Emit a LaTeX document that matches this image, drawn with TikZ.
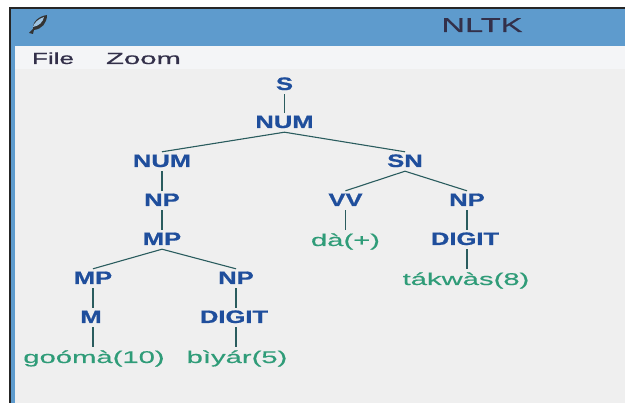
\documentclass[tikz,border=0pt]{standalone}
\usepackage{fontspec}
\setmainfont{Liberation Sans}
\newfontfamily\lblfont[FakeStretch=1.42,FakeBold=0.9]{Liberation Sans Bold}
\newfontfamily\leaffont[FakeStretch=1.72,FakeBold=0.3]{Liberation Sans}
\newfontfamily\menufont[FakeStretch=1.63,FakeBold=0.6]{Liberation Sans}
\newfontfamily\zoomfont[FakeStretch=1.83,FakeBold=0.6]{Liberation Sans}
\newfontfamily\titlefont[FakeStretch=1.63,FakeBold=0.6]{Liberation Sans}
\definecolor{barblue}{HTML}{5E9BCD}
\definecolor{panel}{HTML}{EFEFEF}
\definecolor{menubg}{HTML}{F4F5F7}
\definecolor{cat}{HTML}{1F4E9C}
\definecolor{leaf}{HTML}{2F9C78}
\definecolor{edge}{HTML}{2A5C5E}
\definecolor{ink}{HTML}{33304A}
\tikzset{
  treenode/.style={inner sep=0pt,anchor=base,text height=15pt,text depth=4pt},
  catlabel/.style={treenode,text=cat,font=\lblfont\fontsize{18}{18}\selectfont},
  leaflabel/.style={treenode,text=leaf,font=\leaffont\fontsize{17}{17}\selectfont},
  menulabel/.style={inner sep=0pt,anchor=base,text=ink,font=\menufont\fontsize{16}{16}\selectfont},
  treeedge/.style={draw=edge,line width=1.1pt},
  stemedge/.style={draw=edge,line width=1.8pt},
}
\begin{document}
\begin{tikzpicture}[x=1pt,y=-1pt]
\useasboundingbox (0,0) rectangle (625,403);
\fill[white] (0,0) rectangle (625,403);
\fill[black!85] (9,7) rectangle (625,9);
\fill[black!85] (9,7) rectangle (11,403);
\fill[barblue] (11,9) rectangle (625,403);
\fill[menubg] (15,46) rectangle (625,69);
\fill[panel] (15,69) rectangle (625,403);
% feather icon
\fill[black!80] (29,33) -- (33,29) .. controls (32,22) and (39,16) .. (47,15) .. controls (47,23) and (42,29) .. (34,30) -- (33,34) -- cycle;
\fill[barblue!60!white] (33,27) .. controls (34,23) and (38,19) .. (44,17) .. controls (43,22) and (39,26) .. (33,27) -- cycle;
\node[inner sep=0pt,anchor=base,text=ink,font=\titlefont\fontsize{20}{20}\selectfont] (title) at (482,32) {NLTK};
\node[menulabel] (file) at (53,64) {File};
\node[menulabel,font=\zoomfont\fontsize{16}{16}\selectfont] (zoom) at (143.5,64) {Zoom};
% tree
\node[catlabel] (s) at (284.5,90) {S};
\node[catlabel] (num) at (284.5,128) {NUM};
\node[catlabel] (numb) at (162,167) {NUM};
\node[catlabel] (sn) at (405,167) {SN};
\node[catlabel] (npa) at (162,206) {NP};
\node[catlabel] (vv) at (345.5,206) {VV};
\node[catlabel] (npb) at (467,206) {NP};
\node[catlabel] (mp) at (162,245) {MP};
\node[leaflabel] (da) at (345.5,246) {dà(+)};
\node[catlabel] (digb) at (465,245) {DIGIT};
\node[catlabel] (mpb) at (93,284) {MP};
\node[catlabel] (npc) at (236,284) {NP};
\node[leaflabel] (tak) at (466,285) {tákwàs(8)};
\node[catlabel] (m) at (91,323) {M};
\node[catlabel] (digc) at (234,323) {DIGIT};
\node[leaflabel] (goo) at (94,363) {goómà(10)};
\node[leaflabel] (biy) at (237,363) {bìyár(5)};
\path[treeedge]
 (num.south) -- (numb.north)
 (num.south) -- (sn.north)
 (mp.south) -- (mpb.north)
 (mp.south) -- (npc.north)
 (sn.south) -- (vv.north)
 (sn.south) -- (npb.north);
\path[stemedge]
 (s.south) -- (num.north)
 (numb.south) -- (npa.north)
 (npa.south) -- (mp.north)
 (mpb.south) -- ([xshift=2pt]m.north)
 ([xshift=2pt]m.south) -- ([xshift=-1pt,yshift=1pt]goo.north)
 (npc.south) -- ([xshift=2pt]digc.north)
 ([xshift=2pt]digc.south) -- ([xshift=-1pt,yshift=1pt]biy.north)
 (vv.south) -- ([yshift=1pt]da.north)
 (npb.south) -- ([xshift=2pt]digb.north)
 ([xshift=2pt]digb.south) -- ([xshift=1pt,yshift=1pt]tak.north);
\end{tikzpicture}
\end{document}
